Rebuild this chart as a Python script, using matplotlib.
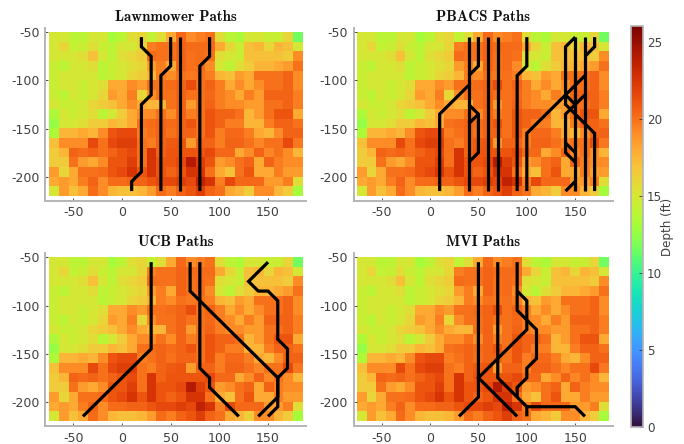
import numpy as np
import matplotlib
matplotlib.use("Agg")
import matplotlib.pyplot as plt

plt.rcParams["axes.unicode_minus"] = False

x_centers = np.arange(-70, 190, 10)
y_centers = np.arange(-55, -225, -10)

depth = np.array([
    [15, 15, 14, 14, 15, 15, 13.2, 14, 15.5, 16, 14.3, 15.5, 18, 20.3, 19, 19.5, 20, 15.5, 14, 13.5, 15, 15, 14.5, 14.5, 16, 11.5],
    [15, 16, 14.3, 14.5, 15.5, 14.5, 14, 15, 15, 16, 19.5, 20, 20, 20.5, 20.2, 20.2, 20.2, 18, 16, 14.5, 17, 17.5, 16, 17.5, 17, 15],
    [15, 15, 15, 15.5, 17, 15, 14, 15.5, 16, 16.5, 20.2, 20, 20, 20.5, 20, 20.2, 20, 15.5, 15, 14.5, 17, 17, 17, 17, 16.5, 19],
    [14.5, 14, 15, 15, 15.5, 14, 14.5, 15, 15.5, 16, 18.5, 19.5, 18, 20.5, 20, 20.2, 19, 15, 14, 15.5, 16.5, 17.5, 17.5, 18, 18.5, 20],
    [14.5, 15, 15, 15, 15, 14, 14.5, 15, 16, 16.5, 17.5, 19.5, 19, 20, 19.8, 20, 19.5, 17.5, 17, 18.5, 18, 20, 20, 20, 20.5, 19],
    [14.5, 15, 15, 14.5, 15, 15.5, 18, 18, 19, 18.5, 20, 20, 20.2, 20.5, 21.3, 20, 20.5, 19.5, 18, 19, 18, 19, 20, 20, 20.5, 19],
    [14.5, 14, 15, 14.5, 15, 16, 18.5, 18, 19.5, 16, 19, 20, 20, 20.5, 20, 20, 20.3, 19.5, 19, 18, 19.5, 18.5, 20.5, 20.5, 20.5, 19.5],
    [15, 14.5, 14.5, 15, 16, 16.5, 17, 18, 19, 18, 17.5, 17.5, 20, 20.5, 18.5, 20, 20.5, 19.5, 19, 19, 18.5, 18.5, 20, 20, 20.5, 19.5],
    [13.5, 15, 14.5, 15, 15.5, 14, 15, 16.5, 18, 19, 19, 20, 19, 20.5, 19.5, 20, 21, 20.5, 20.5, 20, 17.5, 18.5, 20, 21, 21, 18],
    [12.5, 15, 15, 15.5, 16.5, 16.5, 17.5, 17, 18, 20, 20.2, 20.5, 20.2, 20.5, 21, 20, 21, 20.5, 19.5, 19.5, 17.5, 17.5, 19.5, 20.5, 20.5, 20],
    [13.5, 17.5, 17.5, 18, 17.5, 19, 21, 21.5, 21.5, 19.5, 20, 20.5, 20, 20.5, 20.5, 20, 21, 19.5, 20.3, 20.3, 19.5, 18, 17.5, 19, 20.5, 20.5],
    [17, 19, 19, 19, 21.5, 20, 21.5, 22, 22, 20, 19.5, 20.5, 20.8, 21, 18.5, 20.5, 20.5, 19.5, 20.5, 20.5, 20, 19.2, 20, 20, 21.5, 19.8],
    [16.5, 17.5, 20.5, 20.2, 20.5, 20, 20.5, 21, 21.5, 20, 22.5, 20.5, 21, 21, 21, 21, 21.5, 20.3, 20.3, 18, 19, 20.5, 19.2, 20, 19, 17.5],
    [16.5, 16.5, 20, 18.5, 18, 19, 21, 21, 22, 20, 22.5, 21, 21, 21.5, 24, 22, 21, 18.5, 19, 20, 20.5, 18, 20.5, 19.5, 19, 19],
    [18.5, 16, 18, 20, 20, 20.2, 21, 21.5, 22.5, 21, 22.5, 21, 20.5, 21, 22.5, 22.5, 20, 18, 17, 20, 21, 18, 18, 19.5, 18.5, 18.5],
    [18, 18.5, 18, 19.5, 20.5, 19, 20.2, 20.2, 20.5, 20.5, 21, 21.5, 21.5, 22, 21.5, 23.5, 22.5, 19.5, 21.5, 20.3, 20.3, 20.3, 18.5, 18.5, 19.5, 15.5],
    [15, 18.5, 17, 18, 20.2, 19, 17.5, 17, 17, 17.5, 18.5, 20.2, 19.5, 20.5, 21, 22, 20.5, 20, 18, 17.5, 16.5, 19, 19, 17.5, 16.5, 13],
])

lawnmower_paths = [
    [(20, -55), (20, -65), (30, -75), (30, -115), (20, -125), (20, -195), (10, -205), (10, -215)],
    [(50, -55), (50, -85), (40, -95), (40, -215)],
    [(60, -55), (60, -215)],
    [(90, -55), (90, -75), (80, -85), (80, -215)],
]
pbacs_paths = [
    [(40, -55), (40, -215)],
    [(40, -105), (10, -135), (10, -215)],
    [(50, -55), (50, -85), (40, -95)],
    [(40, -125), (50, -135), (50, -175), (40, -185)],
    [(40, -145), (50, -135)],
    [(60, -55), (60, -215)],
    [(70, -55), (70, -215)],
    [(100, -55), (100, -85), (90, -95), (90, -215)],
    [(100, -215), (100, -155), (160, -95)],
    [(170, -55), (170, -65), (160, -75)],
    [(160, -55), (160, -215)],
    [(150, -55), (140, -65), (140, -125), (170, -155), (170, -215)],
    [(150, -55), (150, -215)],
    [(140, -215), (150, -205)],
    [(160, -115), (140, -135), (140, -175), (150, -185)],
    [(140, -165), (150, -175)],
    [(140, -115), (150, -125)],
]
ucb_paths = [
    [(30, -55), (30, -145), (-40, -215)],
    [(70, -55), (70, -85), (160, -175), (160, -205), (150, -215)],
    [(80, -55), (80, -165), (90, -175), (90, -185), (120, -215)],
    [(150, -55), (130, -75), (140, -85), (150, -85), (160, -95), (160, -135), (170, -145), (170, -165), (160, -175), (160, -195), (140, -215)],
]
mvi_paths = [
    [(50, -55), (50, -195), (30, -215)],
    [(70, -55), (70, -175), (100, -205), (100, -215)],
    [(100, -205), (150, -205), (160, -215)],
    [(90, -55), (90, -105), (110, -125), (110, -155), (100, -165), (100, -175), (90, -185), (90, -195)],
    [(90, -85), (100, -95), (100, -125), (50, -175), (90, -215)],
]

titles = ["Lawnmower Paths", "PBACS Paths", "UCB Paths", "MVI Paths"]
all_paths = [lawnmower_paths, pbacs_paths, ucb_paths, mvi_paths]

W, H = 684, 444
panel_boxes = [(45, 28, 306, 200.7), (353.5, 28, 613, 200.7), (45, 253, 306, 426), (353.5, 253, 613, 426)]

fig = plt.figure(figsize=(W / 100, H / 100), dpi=100)
grid_color = "#b4b4b4"
text_color = "#404040"


def px_axes(x0, y0, x1, y1):
    return fig.add_axes([x0 / W, 1 - y1 / H, (x1 - x0) / W, (y1 - y0) / H])


for box, title, paths in zip(panel_boxes, titles, all_paths):
    ax = px_axes(*box)
    im = ax.imshow(
        depth,
        cmap="turbo",
        vmin=0,
        vmax=26,
        extent=[x_centers[0] - 5, x_centers[-1] + 5, y_centers[-1] - 5, y_centers[0] + 5],
        interpolation="nearest",
        aspect="auto",
    )
    for path in paths:
        xs, ys = zip(*path)
        ax.plot(xs, ys, color="black", lw=2.3, solid_capstyle="butt", solid_joinstyle="miter")
    ax.set_xlim(-79, 189)
    ax.set_ylim(-225, -45.5)
    ax.set_xticks([-50, 0, 50, 100, 150])
    ax.set_yticks([-50, -100, -150, -200])
    ax.tick_params(direction="in", length=2.5, width=0.6, color="#303030", labelsize=9, labelcolor=text_color, pad=4)
    ax.spines["top"].set_visible(False)
    ax.spines["right"].set_visible(False)
    ax.spines["left"].set_color(grid_color)
    ax.spines["bottom"].set_color(grid_color)
    ax.spines["left"].set_linewidth(1.4)
    ax.spines["bottom"].set_linewidth(1.4)
    ax.set_title(title, fontfamily="cmb10", fontsize=10.8, color="#111111", pad=5)

cax = px_axes(630.5, 26.5, 643, 426.5)
cbar = fig.colorbar(im, cax=cax)
cbar.set_ticks([0, 5, 10, 15, 20, 25])
cbar.ax.tick_params(direction="in", length=3, width=0.6, color="#303030", labelsize=8.6, labelcolor=text_color, pad=3)
cbar.outline.set_edgecolor(grid_color)
cbar.outline.set_linewidth(1.2)
cbar.set_label("Depth (ft)", fontsize=8.6, color=text_color, labelpad=-1)

fig.savefig("out.png", dpi=100)
